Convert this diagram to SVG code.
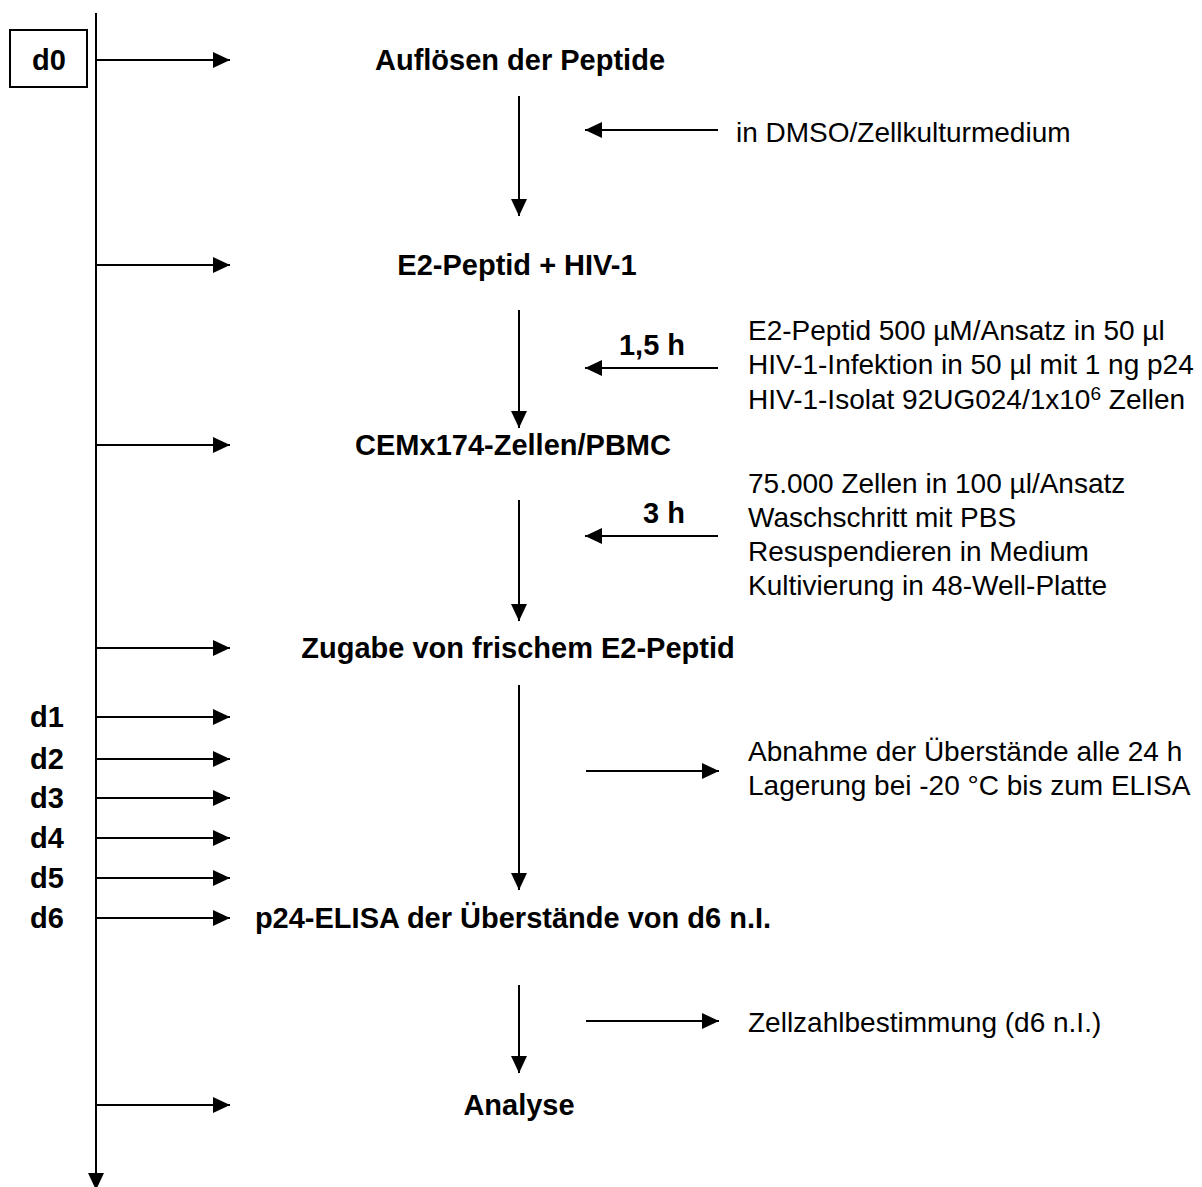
<svg xmlns="http://www.w3.org/2000/svg" width="1202" height="1187" viewBox="0 0 1202 1187">
<style>
.b{font-family:"Liberation Sans",Arial,sans-serif;font-weight:bold;font-size:29px;fill:#000}
.r{font-family:"Liberation Sans",Arial,sans-serif;font-size:28px;fill:#000}
.c{text-anchor:middle}
line{stroke:#000;stroke-width:2}
</style>
<defs>
<marker id="ah" markerWidth="18" markerHeight="16" refX="17" refY="8" orient="auto" markerUnits="userSpaceOnUse">
<path d="M0,0 L17,8 L0,16 Z" fill="#000"/>
</marker>
</defs>
<rect width="1202" height="1187" fill="#fff"/>
<g id="connectors">
<line x1="96" y1="13" x2="96" y2="1190" marker-end="url(#ah)"/>
<line x1="96" y1="60" x2="230" y2="60" marker-end="url(#ah)"/>
<line x1="96" y1="265" x2="230" y2="265" marker-end="url(#ah)"/>
<line x1="96" y1="445" x2="230" y2="445" marker-end="url(#ah)"/>
<line x1="96" y1="648" x2="230" y2="648" marker-end="url(#ah)"/>
<line x1="96" y1="717" x2="230" y2="717" marker-end="url(#ah)"/>
<line x1="96" y1="759" x2="230" y2="759" marker-end="url(#ah)"/>
<line x1="96" y1="798" x2="230" y2="798" marker-end="url(#ah)"/>
<line x1="96" y1="838" x2="230" y2="838" marker-end="url(#ah)"/>
<line x1="96" y1="878" x2="230" y2="878" marker-end="url(#ah)"/>
<line x1="96" y1="918" x2="230" y2="918" marker-end="url(#ah)"/>
<line x1="96" y1="1105" x2="230" y2="1105" marker-end="url(#ah)"/>
<line x1="519" y1="96" x2="519" y2="216" marker-end="url(#ah)"/>
<line x1="519" y1="310" x2="519" y2="428" marker-end="url(#ah)"/>
<line x1="519" y1="500" x2="519" y2="621" marker-end="url(#ah)"/>
<line x1="519" y1="685" x2="519" y2="890" marker-end="url(#ah)"/>
<line x1="519" y1="985" x2="519" y2="1073" marker-end="url(#ah)"/>
<line x1="718" y1="130" x2="585" y2="130" marker-end="url(#ah)"/>
<line x1="718" y1="368" x2="585" y2="368" marker-end="url(#ah)"/>
<line x1="718" y1="536" x2="585" y2="536" marker-end="url(#ah)"/>
<line x1="586" y1="771" x2="719" y2="771" marker-end="url(#ah)"/>
<line x1="586" y1="1021" x2="719" y2="1021" marker-end="url(#ah)"/>
</g>
<g id="d0"><rect x="10" y="30" width="77" height="57" fill="#fff" stroke="#000" stroke-width="2"/><text class="b c" x="49" y="70">d0</text></g>
<g id="d1"><text class="b" x="30" y="727">d1</text></g>
<g id="d2"><text class="b" x="30" y="769">d2</text></g>
<g id="d3"><text class="b" x="30" y="808">d3</text></g>
<g id="d4"><text class="b" x="30" y="848">d4</text></g>
<g id="d5"><text class="b" x="30" y="888">d5</text></g>
<g id="d6"><text class="b" x="30" y="928">d6</text></g>
<g id="n1"><text class="b c" x="520" y="70">Auflösen der Peptide</text></g>
<g id="n2"><text class="b c" x="517" y="275">E2-Peptid + HIV-1</text></g>
<g id="n3"><text class="b c" x="513" y="455">CEMx174-Zellen/PBMC</text></g>
<g id="n4"><text class="b c" x="518" y="658">Zugabe von frischem E2-Peptid</text></g>
<g id="n5"><text class="b c" x="513" y="928">p24-ELISA der Überstände von d6 n.I.</text></g>
<g id="n6"><text class="b c" x="519" y="1115">Analyse</text></g>
<g id="t15"><text class="b c" x="652" y="355">1,5 h</text></g>
<g id="t3"><text class="b c" x="664" y="523">3 h</text></g>
<g id="s1"><text class="r" x="736" y="142">in DMSO/Zellkulturmedium</text></g>
<g id="s2">
<text class="r" x="748" y="340">E2-Peptid 500 µM/Ansatz in 50 µl</text>
<text class="r" x="748" y="374">HIV-1-Infektion in 50 µl mit 1 ng p24</text>
<text class="r" x="748" y="409">HIV-1-Isolat 92UG024/1x10<tspan font-size="19" dy="-9">6</tspan><tspan dy="9"> Zellen</tspan></text>
</g>
<g id="s3">
<text class="r" x="748" y="493">75.000 Zellen in 100 µl/Ansatz</text>
<text class="r" x="748" y="527">Waschschritt mit PBS</text>
<text class="r" x="748" y="561">Resuspendieren in Medium</text>
<text class="r" x="748" y="595">Kultivierung in 48-Well-Platte</text>
</g>
<g id="s4">
<text class="r" x="748" y="761">Abnahme der Überstände alle 24 h</text>
<text class="r" x="748" y="795">Lagerung bei -20 °C bis zum ELISA</text>
</g>
<g id="s5"><text class="r" x="748" y="1032">Zellzahlbestimmung (d6 n.I.)</text></g>
</svg>
